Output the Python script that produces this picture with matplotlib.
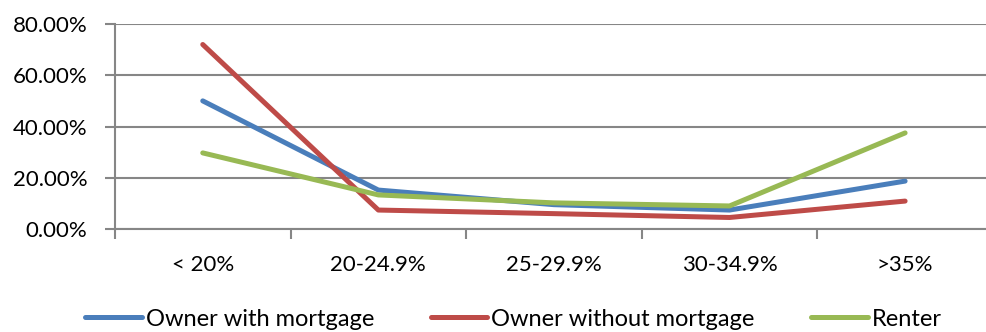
import matplotlib.pyplot as plt
from matplotlib.ticker import FixedLocator, PercentFormatter

plt.rcParams['font.family'] = ['Lato', 'DejaVu Sans']

categories = ["< 20%", "20-24.9%", "25-29.9%", "30-34.9%", ">35%"]
owner_mortgage = [50.0, 15.2, 9.5, 7.4, 18.7]
owner_no_mortgage = [72.0, 7.4, 6.0, 4.5, 10.9]
renter = [29.7, 13.3, 10.2, 9.0, 37.5]

series = [
    ("Owner with mortgage", owner_mortgage, "#4A7EBB"),
    ("Owner without mortgage", owner_no_mortgage, "#BE4B48"),
    ("Renter", renter, "#98B954"),
]

fig = plt.figure(figsize=(9.86, 3.32), dpi=100)
ax = fig.add_axes([0.1166, 0.3102, 0.8904, 0.6175])

x = range(len(categories))
for name, vals, col in series:
    ax.plot(x, vals, color=col, lw=3.6, label=name, solid_capstyle='round',
            solid_joinstyle='round')

grid_col = "#868686"
ax.set_ylim(0, 80)
ax.set_xlim(-0.5, len(categories) - 0.5)
ax.set_yticks([0, 20, 40, 60, 80])
ax.yaxis.set_major_formatter(PercentFormatter(decimals=2))
ax.yaxis.grid(True, color=grid_col, lw=1.5)
ax.set_axisbelow(True)

# category boundaries get tick marks, labels sit between them
ax.xaxis.set_major_locator(FixedLocator([i - 0.5 for i in range(len(categories) + 1)]))
ax.xaxis.set_minor_locator(FixedLocator(list(x)))
ax.set_xticklabels([], minor=False)
ax.set_xticklabels(categories, minor=True)
ax.tick_params(axis='x', which='major', length=7, width=1.5, color=grid_col)
ax.tick_params(axis='x', which='minor', length=0, pad=19, labelsize=16)
ax.tick_params(axis='y', length=7, width=1.5, color=grid_col, labelsize=16, pad=13)

for side in ['top', 'right']:
    ax.spines[side].set_visible(False)
for side in ['left', 'bottom']:
    ax.spines[side].set_color(grid_col)
    ax.spines[side].set_linewidth(1.5)

fig.legend(*ax.get_legend_handles_labels(), loc='center',
           bbox_to_anchor=(0.5208, 1 - 319 / 332), ncol=3, frameon=False,
           fontsize=17, handlelength=2.4, handletextpad=0.17,
           columnspacing=2.4, borderpad=0, borderaxespad=0)

fig.savefig("out.png", dpi=100)
